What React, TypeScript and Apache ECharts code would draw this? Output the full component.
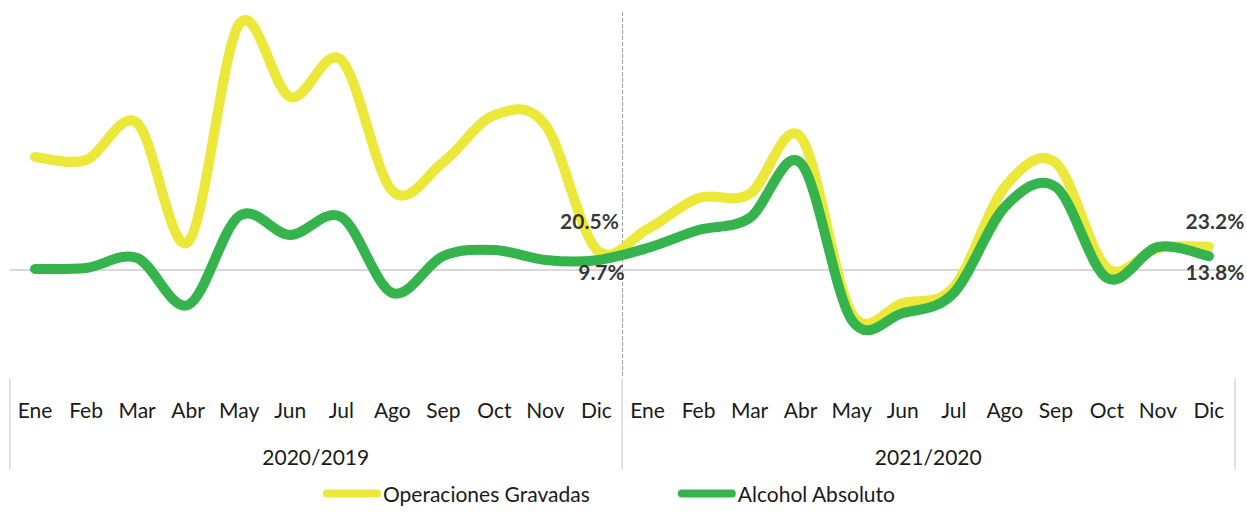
import React, { useEffect, useRef } from "react";
import * as echarts from "echarts";

const months = ["Ene", "Feb", "Mar", "Abr", "May", "Jun", "Jul", "Ago", "Sep", "Oct", "Nov", "Dic"];
const categories = [...months, ...months];
const groups = ["2020/2019", "2021/2020"];

const operacionesGravadas = [
  113, 110, 147, 28, 246, 173, 210, 79, 108, 155, 145, 20.5,
  41, 72, 76, 133, -43, -33, -17, 83, 107, 2, 22, 23.2,
];
const alcoholAbsoluto = [
  1, 2, 12, -35, 54, 35, 53, -23, 14, 20, 10, 9.7,
  22, 40, 52, 107, -50, -43, -23, 63, 83, -8, 23, 13.8,
];

const labelledIndex = [11, 23];

const YELLOW = "#ebe83a";
const GREEN = "#35b44e";
const FONT = 'Lato, "Open Sans", sans-serif';

function curveSeries(name: string, values: number[], color: string, z: number) {
  return {
    name,
    type: "custom",
    silent: true,
    z,
    itemStyle: { color },
    data: [[0, values[0]]],
    encode: { x: 0, y: 1 },
    renderItem: (_params: any, api: any) => {
      const pts = values.map((v, i) => api.coord([i, v]));
      let d = `M${pts[0][0]},${pts[0][1]}`;
      for (let i = 0; i < pts.length - 1; i++) {
        const p0 = pts[i - 1] || pts[i];
        const p1 = pts[i];
        const p2 = pts[i + 1];
        const p3 = pts[i + 2] || pts[i + 1];
        const c1x = p1[0] + (p2[0] - p0[0]) / 6;
        const c1y = p1[1] + (p2[1] - p0[1]) / 6;
        const c2x = p2[0] - (p3[0] - p1[0]) / 6;
        const c2y = p2[1] - (p3[1] - p1[1]) / 6;
        d += ` C${c1x},${c1y} ${c2x},${c2y} ${p2[0]},${p2[1]}`;
      }
      return {
        type: "path",
        shape: { pathData: d },
        style: {
          fill: "none",
          stroke: color,
          lineWidth: 10,
          lineCap: "round",
          lineJoin: "round",
        },
      };
    },
  };
}

function labelPoints(values: number[], isTop: boolean) {
  return labelledIndex.map((i) => {
    const first = i === 11;
    return {
      value: [i, values[i]],
      label: {
        show: true,
        position: isTop ? "top" : "bottom",
        offset: isTop ? (first ? [-7, -13] : [6, -10]) : first ? [5, -5] : [6, -1],
      },
    };
  });
}

export default function App() {
  const ref = useRef<HTMLDivElement>(null);
  useEffect(() => {
    if (!ref.current) return;
    const chart = echarts.init(ref.current, undefined, { renderer: "svg" });
    chart.setOption({
      animation: false,
      backgroundColor: "#ffffff",
      grid: { left: 9.5, right: 12.5, top: 12, bottom: 134 },
      legend: {
        bottom: 3,
        left: 318,
        itemWidth: 58,
        itemHeight: 8,
        itemGap: 88,
        icon: "path://M4,0 L54,0 A4,4 0 0 1 54,8 L4,8 A4,4 0 0 1 4,0 Z",
        textStyle: { fontFamily: FONT, fontSize: 21, color: "#1a1a1a", padding: [0, 0, 0, -3] },
        data: ["Operaciones Gravadas", "Alcohol Absoluto"],
      },
      xAxis: [
        {
          type: "category",
          data: categories,
          position: "bottom",
          boundaryGap: true,
          axisLine: { show: false },
          axisTick: { show: false },
          axisLabel: { interval: 0, margin: 21, fontFamily: FONT, fontSize: 21, color: "#1a1a1a" },
        },
        {
          type: "category",
          data: groups,
          position: "bottom",
          boundaryGap: true,
          axisLine: { show: false },
          axisTick: { show: true, interval: 0, length: 92, lineStyle: { color: "#d9d9d9", width: 1.5 } },
          axisLabel: { interval: 0, margin: 68, fontFamily: FONT, fontSize: 21, color: "#1a1a1a" },
          splitLine: {
            show: true,
            interval: 0,
            showMinLine: false,
            showMaxLine: false,
            lineStyle: { type: "dashed", color: "#9a9a9a", width: 1 },
          },
        },
      ],
      yAxis: { type: "value", min: -108, max: 258, show: false },
      series: [
        curveSeries("Operaciones Gravadas", operacionesGravadas, YELLOW, 2),
        curveSeries("Alcohol Absoluto", alcoholAbsoluto, GREEN, 3),
        {
          name: "labels",
          type: "scatter",
          silent: true,
          z: 5,
          symbolSize: 1,
          itemStyle: { color: "rgba(0,0,0,0)" },
          label: {
            show: true,
            formatter: (p: any) => Number(p.value[1]).toFixed(1) + "%",
            fontFamily: FONT,
            fontWeight: "bold",
            fontSize: 21,
            color: "#000",
          },
          data: [...labelPoints(operacionesGravadas, true), ...labelPoints(alcoholAbsoluto, false)],
          markLine: {
            silent: true,
            symbol: "none",
            z: 1,
            label: { show: false },
            lineStyle: { color: "#d9d9d9", width: 2, type: "solid" },
            data: [{ yAxis: 0 }],
          },
        },
      ],
    });
    return () => chart.dispose();
  }, []);
  return (
    <div
      ref={ref}
      style={{ position: "fixed", left: 0, top: 0, width: 1247, height: 512, background: "#fff" }}
    />
  );
}
